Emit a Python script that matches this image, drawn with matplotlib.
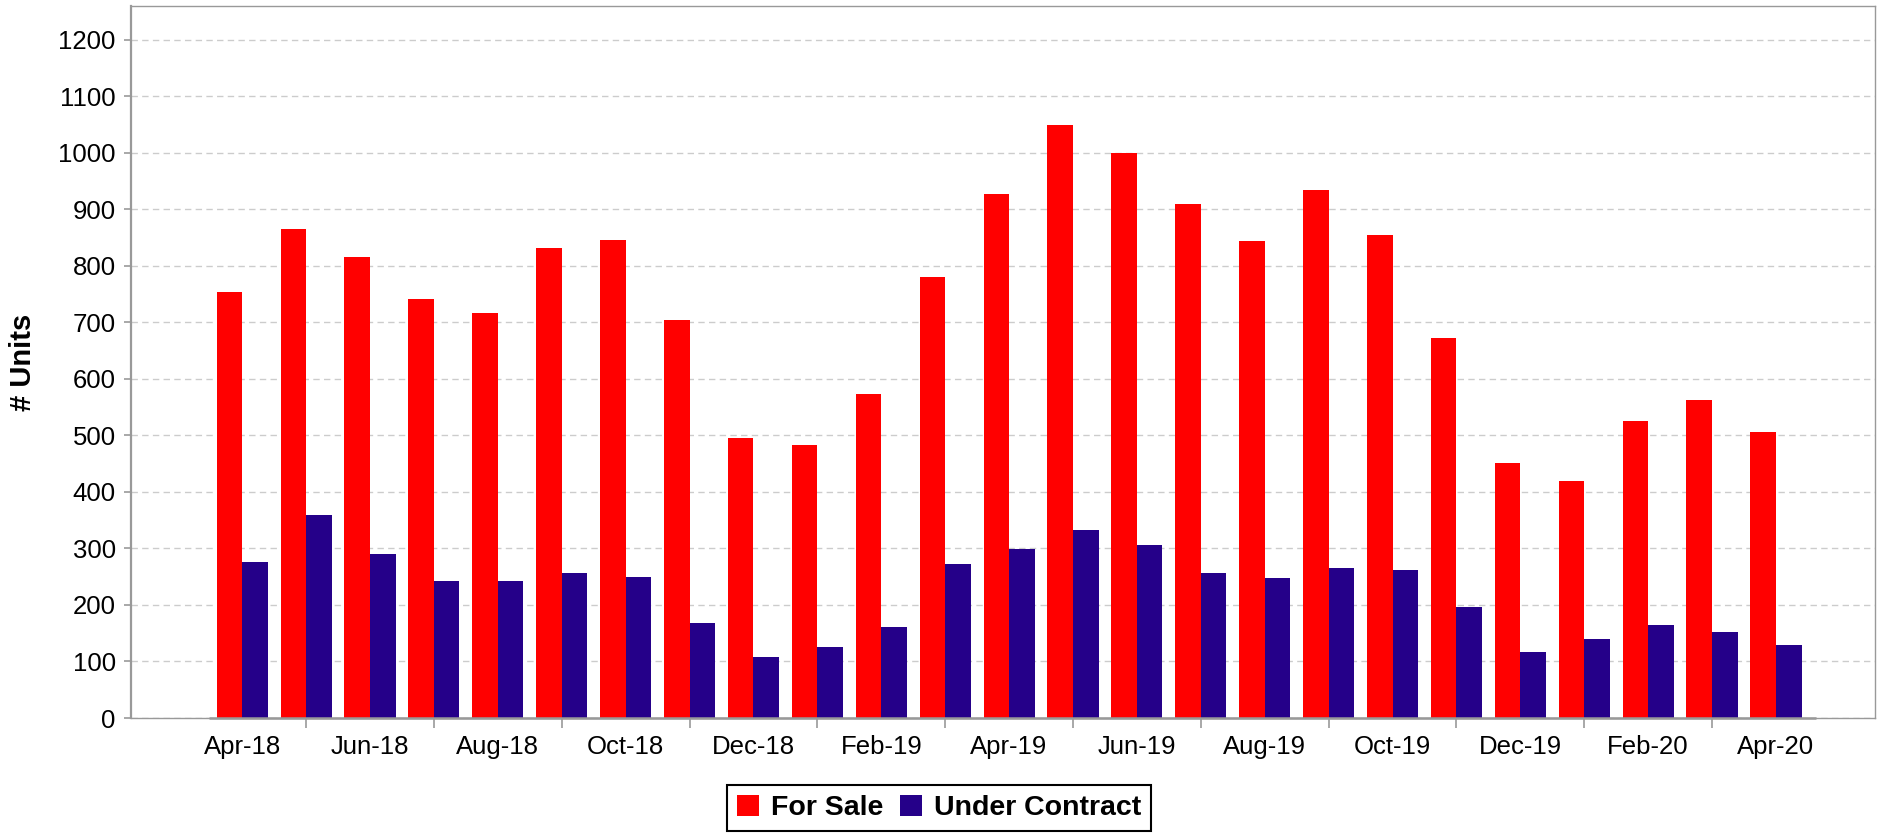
import matplotlib.pyplot as plt
import numpy as np

plt.rcParams["font.family"] = ["Liberation Sans", "DejaVu Sans"]

months = ["Apr-18", "May-18", "Jun-18", "Jul-18", "Aug-18", "Sep-18", "Oct-18",
          "Nov-18", "Dec-18", "Jan-19", "Feb-19", "Mar-19", "Apr-19", "May-19",
          "Jun-19", "Jul-19", "Aug-19", "Sep-19", "Oct-19", "Nov-19", "Dec-19",
          "Jan-20", "Feb-20", "Mar-20", "Apr-20"]
for_sale = [753, 865, 816, 741, 716, 831, 846, 704, 495, 483, 573, 780, 928,
            1050, 1000, 909, 845, 935, 854, 672, 451, 420, 525, 562, 507]
under_contract = [276, 359, 291, 242, 242, 257, 250, 168, 108, 126, 161, 272,
                  299, 332, 306, 257, 248, 266, 262, 197, 117, 140, 165, 152, 130]

x = np.arange(len(months))

fig = plt.figure(figsize=(18.88, 8.35), dpi=100)
ax = fig.add_axes([131 / 1888, 117 / 835, 1744 / 1888, 712 / 835])

ax.bar(x - 0.2, for_sale, 0.4, color="#ff0000", label="For Sale", zorder=3)
ax.bar(x + 0.2, under_contract, 0.4, color="#250089", label="Under Contract", zorder=3)

ax.set_xlim(-1.74, 25.55)
ax.set_ylim(0, 1260)
ax.set_yticks(range(0, 1201, 100))
ax.yaxis.grid(True, linestyle=(0, (4.6, 3.1)), color="#cccccc", lw=1, zorder=0)

# labels on every other month, small ticks on the ones in between
ax.set_xticks(x[::2])
ax.set_xticklabels(months[::2])
ax.set_xticks(x[1::2], minor=True)
ax.tick_params(axis="x", which="major", length=0, labelsize=18.5, pad=12)
ax.tick_params(axis="x", which="minor", length=7, width=1.2, color="#999999")
ax.tick_params(axis="y", length=5, width=1.2, color="#999999", labelsize=18.5, pad=6)

for s in ["top", "right"]:
    ax.spines[s].set_color("#999999")
    ax.spines[s].set_linewidth(1)
ax.spines["left"].set_color("#999999")
ax.spines["left"].set_linewidth(1.6)
ax.spines["bottom"].set_color("#999999")
ax.spines["bottom"].set_linewidth(1)
ax.hlines(0, -0.52, 24.62, color="#999999", lw=1.8, zorder=4, clip_on=False)

ax.set_ylabel("# Units", fontsize=21, fontweight="bold")
ax.yaxis.set_label_coords(-0.054, 0.5)

leg = fig.legend(loc="center", bbox_to_anchor=(939 / 1888, 27 / 835), ncol=2,
                 fancybox=False, edgecolor="black", framealpha=1,
                 prop={"weight": "bold", "size": 20.5},
                 handlelength=0.77, handleheight=0.77, handletextpad=0.43,
                 columnspacing=0.57, borderpad=0.35)
leg.get_frame().set_linewidth(1.5)

fig.savefig("out.png", dpi=100)
